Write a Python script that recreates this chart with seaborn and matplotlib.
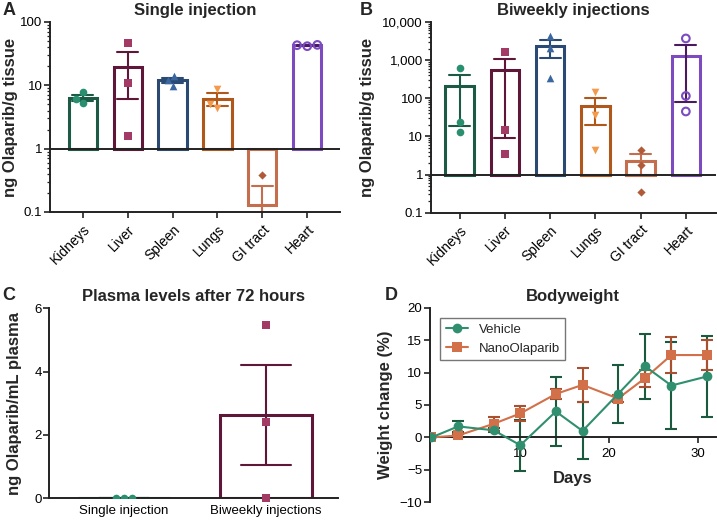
import numpy as np
import pandas as pd
import matplotlib
matplotlib.use("Agg")
import matplotlib.pyplot as plt
from matplotlib.ticker import FuncFormatter, NullFormatter
import seaborn as sns

organs = ["Kidneys", "Liver", "Spleen", "Lungs", "GI tract", "Heart"]

# A - single injection, ng Olaparib / g tissue (n=3)
single_kidneys = [7.8, 5.3, 6.0]
single_liver = [46.0, 11.0, 1.56]
single_spleen = [14.1, 9.8, 12.2]
single_lungs = [8.8, 4.4, 5.0]
single_gi = [0.38, 0.0, 0.0]
single_heart = [43.0, 41.5, 43.5]

# B - biweekly injections
biweekly_kidneys = [610, 24.4, 13.4]
biweekly_liver = [1620, 14.8, 3.4]
biweekly_spleen = [4400, 2100, 350]
biweekly_lungs = [145, 36.5, 4.4]
biweekly_gi = [4.5, 1.8, 0.34]
biweekly_heart = [3700, 115, 45]

# C - plasma after 72 h
plasma_groups = ["Single injection", "Biweekly injections"]
plasma_single = [0.02, 0.0, 0.01]
plasma_biweekly = [5.48, 2.40, 0.0]

# D - bodyweight
days = [0, 3, 7, 10, 14, 17, 21, 24, 27, 31]
vehicle_mean = [0, 1.7, 1.1, -1.2, 4.0, 1.0, 6.7, 11.0, 8.0, 9.4]
vehicle_err = [0, 0.85, 0.3, 3.9, 5.3, 4.4, 4.4, 5.0, 6.7, 6.2]
nano_mean = [0, 0.3, 2.1, 3.7, 6.7, 8.1, 6.0, 9.1, 12.7, 12.7]
nano_err = [0, 0.3, 1.1, 1.1, 0.7, 2.6, 0.5, 1.3, 2.75, 2.3]

bar_colors = ["#1d5a45", "#5e1738", "#2b4a73", "#b0581c", "#c46e4e", "#7c4bc0"]
err_colors = ["#1d5a45", "#5e1738", "#2b4a73", "#b0581c", "#c46e4e", "#4a1a60"]
point_colors = ["#2a8f6f", "#a33a65", "#3a67a0", "#f39a4c", "#b05a38", "#7c4bc0"]
markers = ["o", "s", "^", "v", "D", "o"]
point_sizes = [5.5, 5.5, 5.5, 5.5, 4.2, 5.5]

sns.set_theme(style="ticks")
plt.rcParams["font.family"] = ["Liberation Sans", "DejaVu Sans"]
plt.rcParams["axes.edgecolor"] = "#222222"
plt.rcParams["axes.linewidth"] = 1.4
plt.rcParams["xtick.color"] = "#222222"
plt.rcParams["ytick.color"] = "#222222"
plt.rcParams["xtick.labelcolor"] = "black"
plt.rcParams["ytick.labelcolor"] = "black"

fig = plt.figure(figsize=(7.17, 5.21), dpi=100)


def log_label(v, pos):
    if v >= 1:
        return f"{v:,.0f}"
    return f"{v:g}"


def organ_panel(ax, values, ylim, xlim, title, label_x):
    df = pd.DataFrame({"organ": np.repeat(organs, 3), "value": np.concatenate(values)})
    for organ, edge, dark in zip(organs, bar_colors, err_colors):
        sns.barplot(data=df[df.organ == organ], x="organ", y="value", order=organs,
                    errorbar="se", capsize=0.46, width=0.63, fill=False, color=edge,
                    linewidth=2.2, err_kws={"color": dark, "linewidth": 1.5}, ax=ax)
    ax.set_yscale("log")
    ax.set_ylim(*ylim)
    ax.set_xlim(*xlim)
    # bars start from 1 like in the original figure
    for p in ax.patches:
        h = p.get_height()
        p.set_y(1)
        p.set_height(h - 1)
    ax.axhline(1, color="#222222", lw=1.4, zorder=3)

    for organ, mk, pc, ms in zip(organs, markers, point_colors, point_sizes):
        sub = df[(df.organ == organ) & (df.value > 0)]
        sns.swarmplot(data=sub, x="organ", y="value", order=organs, marker=mk,
                      color=pc, size=ms, ax=ax, zorder=4)
        if organ == "Heart":
            coll = ax.collections[-1]
            coll.set_facecolor("none")
            coll.set_edgecolor(pc)
            coll.set_linewidth(1.5)
    ax.set_ylim(*ylim)
    ax.set_xlim(*xlim)

    ax.yaxis.set_major_formatter(FuncFormatter(log_label))
    ax.yaxis.set_minor_formatter(NullFormatter())
    ax.tick_params(axis="y", which="major", length=4, width=1.2, labelsize=9.5, pad=1.5)
    ax.tick_params(axis="y", which="minor", length=2.5, width=0.9)
    ax.tick_params(axis="x", length=4, width=1.2, labelsize=10)
    plt.setp(ax.get_xticklabels(), rotation=45, ha="right", rotation_mode="anchor")
    ax.set_xlabel("")
    ax.set_ylabel("ng Olaparib/g tissue", fontsize=12, fontweight="bold")
    ax.yaxis.set_label_coords(label_x, 0.5)
    ax.set_title(title, fontsize=12, fontweight="bold", pad=5)
    sns.despine(ax=ax)


ax_a = fig.add_axes([0.0697, 0.5931, 0.4045, 0.3647])
organ_panel(ax_a, [single_kidneys, single_liver, single_spleen, single_lungs, single_gi, single_heart],
            (0.1, 100), (-0.73, 5.73), "Single injection", -0.11)

ax_b = fig.add_axes([0.6007, 0.5918, 0.3975, 0.3660])
organ_panel(ax_b, [biweekly_kidneys, biweekly_liver, biweekly_spleen, biweekly_lungs, biweekly_gi, biweekly_heart],
            (0.1, 10000), (-0.64, 5.66), "Biweekly injections", -0.195)

# C - plasma
ax_c = fig.add_axes([0.0688, 0.0436, 0.4026, 0.3647])
plasma_df = pd.DataFrame({"group": np.repeat(plasma_groups, 3),
                          "value": np.concatenate([plasma_single, plasma_biweekly])})
c_bar = ["#1d5a45", "#5e1738"]
c_pts = ["#2a8f6f", "#a33a65"]
c_mk = ["o", "s"]
for grp, edge, pc, mk in zip(plasma_groups, c_bar, c_pts, c_mk):
    sns.barplot(data=plasma_df[plasma_df.group == grp], x="group", y="value", order=plasma_groups,
                errorbar="se", capsize=0.35, width=0.65, fill=False, color=edge,
                linewidth=2.2, err_kws={"color": edge, "linewidth": 1.5}, ax=ax_c)
ax_c.set_ylim(0, 6)
ax_c.set_xlim(-0.526, 1.507)
for grp, pc, mk in zip(plasma_groups, c_pts, c_mk):
    sns.swarmplot(data=plasma_df[plasma_df.group == grp], x="group", y="value", order=plasma_groups,
                  marker=mk, color=pc, size=5.5, ax=ax_c, zorder=4)
    ax_c.collections[-1].set_clip_on(False)
ax_c.set_ylim(0, 6)
ax_c.set_xlim(-0.526, 1.507)
ax_c.set_yticks([0, 2, 4, 6])
ax_c.tick_params(axis="y", length=4, width=1.2, labelsize=9.5, pad=1.5)
ax_c.tick_params(axis="x", length=0, labelsize=9.5, pad=5)
ax_c.set_xlabel("")
ax_c.set_ylabel("ng Olaparib/mL plasma", fontsize=12, fontweight="bold")
ax_c.yaxis.set_label_coords(-0.095, 0.5)
ax_c.set_title("Plasma levels after 72 hours", fontsize=12, fontweight="bold", pad=5)
sns.despine(ax=ax_c)

# D - bodyweight
ax_d = fig.add_axes([0.5993, 0.0359, 0.3990, 0.3735])
ax_d.errorbar(days, vehicle_mean, yerr=vehicle_err, fmt="none", ecolor="#1c5a40",
              elinewidth=1.5, capsize=4, capthick=1.5, zorder=2)
ax_d.errorbar(days, nano_mean, yerr=nano_err, fmt="none", ecolor="#a85030",
              elinewidth=1.5, capsize=4, capthick=1.5, zorder=2)
sns.lineplot(x=days, y=vehicle_mean, marker="o", markersize=7, markeredgewidth=0,
             color="#2f8f6f", linewidth=1.5, label="Vehicle", ax=ax_d, zorder=4)
sns.lineplot(x=days, y=nano_mean, marker="s", markersize=6.5, markeredgewidth=0,
             color="#d2704a", linewidth=1.5, label="NanoOlaparib", ax=ax_d, zorder=3)
ax_d.set_xlim(-0.2, 32)
ax_d.set_ylim(-10, 20)
ax_d.set_yticks([-10, -5, 0, 5, 10, 15, 20])
ax_d.set_xticks([10, 20, 30])
sns.despine(ax=ax_d)
ax_d.spines["bottom"].set_position(("data", 0))
ax_d.tick_params(axis="both", length=4, width=1.2, labelsize=9.5)
ax_d.tick_params(axis="y", pad=1.5)
ax_d.set_xlabel("Days", fontsize=12, fontweight="bold", labelpad=8)
ax_d.set_ylabel("Weight change (%)", fontsize=12, fontweight="bold")
ax_d.yaxis.set_label_coords(-0.128, 0.5)
ax_d.set_title("Bodyweight", fontsize=12, fontweight="bold", pad=5)
leg = ax_d.legend(loc="upper left", fontsize=9.5, frameon=True, fancybox=False,
                  edgecolor="#555555", borderaxespad=0.8, handlelength=1.7)
leg.get_frame().set_linewidth(1.0)

# panel letters
for letter, x, y in [("A", 0.003, 0.997), ("B", 0.502, 0.997), ("C", 0.003, 0.449), ("D", 0.537, 0.449)]:
    fig.text(x, y, letter, fontsize=13, fontweight="bold", va="top", ha="left")

fig.savefig("out.png", dpi=100)
